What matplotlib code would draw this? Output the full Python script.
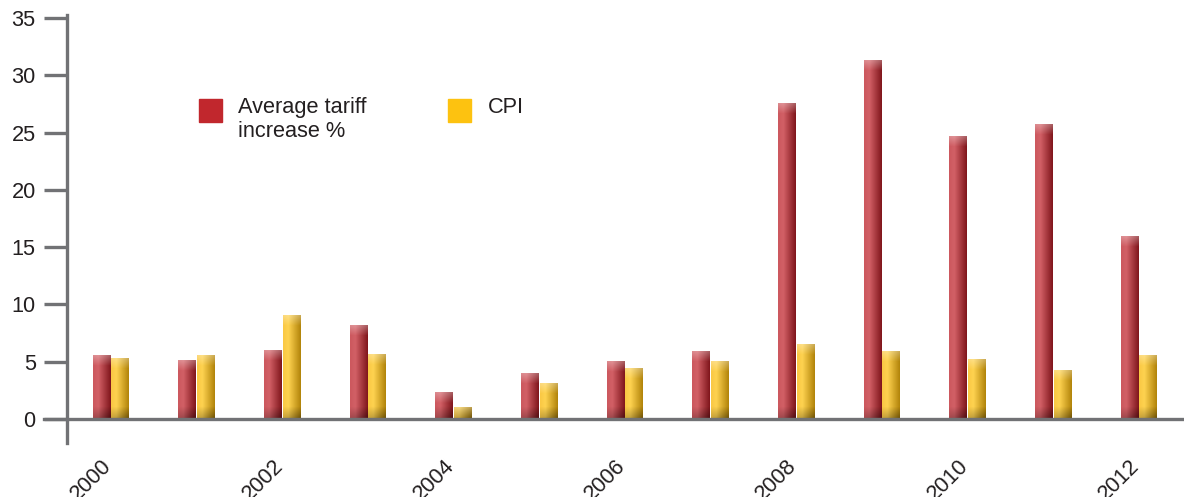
import numpy as np
import matplotlib
matplotlib.use("Agg")
import matplotlib.pyplot as plt
import matplotlib.transforms as mtransforms
from matplotlib.patches import Rectangle

plt.rcParams['font.family'] = ['Liberation Sans', 'DejaVu Sans']

years = [2000, 2001, 2002, 2003, 2004, 2005, 2006, 2007, 2008, 2009, 2010, 2011, 2012]
tariff = [5.5, 5.1, 6.0, 8.2, 2.3, 4.0, 5.0, 5.9, 27.5, 31.3, 24.7, 25.7, 15.9]
cpi = [5.3, 5.5, 9.0, 5.6, 1.0, 3.1, 4.4, 5.0, 6.5, 5.9, 5.2, 4.2, 5.5]
tick_years = [2000, 2002, 2004, 2006, 2008, 2010, 2012]
labels = ["Average tariff\nincrease %", "CPI"]

axis_grey = "#717275"
text_col = "#231f20"
fs = 15.7

W, H = 1184, 497
fig = plt.figure(figsize=(W / 100, H / 100), dpi=100)
ax = fig.add_axes([67 / W, (H - 443) / H, (W - 67) / W, (443 - 14.5) / H])
ax.set_xlim(1999.486, 2012.525)
ax.set_ylim(-2.1, 35.3)

for s in ["top", "right", "bottom"]:
    ax.spines[s].set_visible(False)
ax.spines["left"].set_color(axis_grey)
ax.spines["left"].set_linewidth(2.4)

ax.set_yticks(range(0, 36, 5))
ax.tick_params(axis="y", length=16.5, width=2.4, color=axis_grey, pad=6,
               labelsize=fs, labelcolor=text_col)
ax.set_xticks(tick_years)
ax.set_xticklabels([str(y) for y in tick_years], rotation=45, ha="right",
                   va="top", rotation_mode="anchor")
ax.tick_params(axis="x", length=0, pad=9, labelsize=fs, labelcolor=text_col)
shift = mtransforms.ScaledTranslation(-10 / 100, 0, fig.dpi_scale_trans)
for lab in ax.get_xticklabels():
    lab.set_transform(lab.get_transform() + shift)

# horizontal zero line, starting under the tick marks
trans = mtransforms.blended_transform_factory(ax.transAxes, ax.transData)
ax.plot([-23 / (W - 67), 1], [0, 0], color=axis_grey, lw=2.4,
        transform=trans, clip_on=False, zorder=5)

x = np.array(years, dtype=float)
bw = 0.21
red_bars = ax.bar(x - 0.11, tariff, width=bw, color="#b8353b", zorder=2)
yel_bars = ax.bar(x + 0.11, cpi, width=bw, color="#e8b52a", zorder=2)

px_per_unit = ax.transData.transform((0, 1))[1] - ax.transData.transform((0, 0))[1]


def shade(bars, left, mid, right):
    left, mid, right = (np.array(c, float) / 255 for c in (left, mid, right))
    nh = 40
    u = np.linspace(0, 1, nh)
    cols = np.empty((nh, 3))
    for i, t in enumerate(u):
        if t < 0.3:
            cols[i] = left + (mid - left) * t / 0.3
        else:
            cols[i] = mid + (right - mid) * (t - 0.3) / 0.7
    for b in bars:
        h = b.get_height()
        nv = max(int(round(h * px_per_unit)), 2)
        img = np.repeat(cols[None, :, :], nv, axis=0)
        rows = np.arange(nv)
        # light cap at the top, dark foot at the bottom
        top = np.clip(1 - rows / 10.0, 0, 1)[:, None, None]
        bot = np.clip(1 - (nv - 1 - rows) / 12.0, 0, 1)[:, None, None]
        img = img + (1 - img) * 0.3 * top
        img = img * (1 - 0.4 * bot * (0.5 + 0.5 * u[None, :, None]))
        x0 = b.get_x()
        ax.imshow(img, extent=(x0, x0 + b.get_width(), 0, h), aspect="auto",
                  interpolation="bilinear", zorder=3)
    ax.set_xlim(1999.486, 2012.525)
    ax.set_ylim(-2.1, 35.3)


shade(red_bars, (204, 88, 94), (210, 96, 102), (128, 22, 28))
shade(yel_bars, (250, 200, 68), (254, 210, 80), (178, 132, 10))

# legend
fig.patches.append(Rectangle((199 / W, (H - 122) / H), 23 / W, 23 / H,
                             transform=fig.transFigure, color="#c1272d"))
fig.patches.append(Rectangle((448 / W, (H - 122) / H), 23 / W, 23 / H,
                             transform=fig.transFigure, color="#fdc210"))
fig.text(238 / W, (H - 97) / H, labels[0], fontsize=fs, color=text_col,
         va="top", linespacing=1.2)
fig.text(488 / W, (H - 97) / H, labels[1], fontsize=fs, color=text_col,
         va="top")

fig.savefig("out.png", dpi=100)
